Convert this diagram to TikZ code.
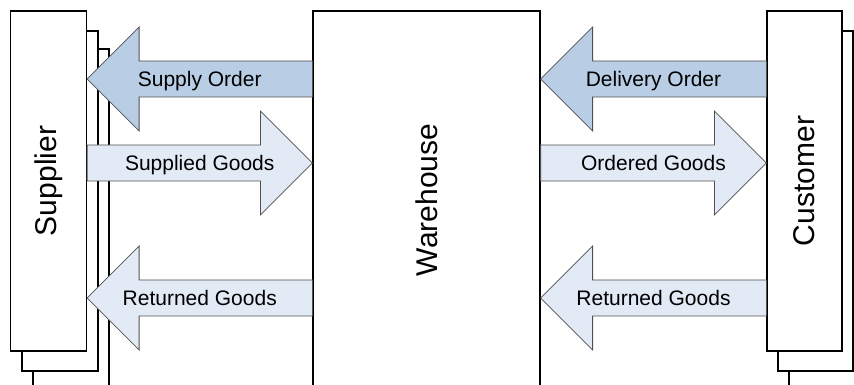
\documentclass[tikz,border=0pt]{standalone}
\usepackage{fontspec}
\setmainfont{Liberation Sans}
\usepackage{tikz}
\usetikzlibrary{calc}

\definecolor{orderblue}{HTML}{B9CDE5}
\definecolor{goodsblue}{HTML}{E2EAF5}
\definecolor{flowline}{HTML}{505050}

\begin{document}
\begin{tikzpicture}[x=1pt, y=1pt]
        \tikzstyle{party}=[draw, line width=1.2pt, fill=white, inner sep=0pt,
                           minimum width=76pt, minimum height=340pt]
        \tikzstyle{partyname}=[rotate=90, font=\fontsize{30}{36}\selectfont]
        % fat block arrow from tail to tip, label in the middle
        \tikzstyle{flow}=[draw=flowline, line width=0.8pt,
            to path={let \p1=(\tikztostart), \p2=(\tikztotarget),
                         \n1={sign(\x2-\x1)*52} in
                (\x1,\y2+18) -- (\x2-\n1,\y2+18) -- (\x2-\n1,\y2+52) -- (\x2,\y2)
                -- (\x2-\n1,\y2-52) -- (\x2-\n1,\y2-18) -- (\x1,\y2-18) -- cycle
                ({(\x1+\x2)/2},\y2) -- +(0,0) \tikztonodes}]
        \tikzstyle{orderflow}=[flow, fill=orderblue]
        \tikzstyle{goodsflow}=[flow, fill=goodsblue]
        \tikzstyle{flowtext}=[font=\fontsize{21}{25}\selectfont, text height=15pt,
                              text depth=0pt, inner sep=0pt, anchor=center]

        \useasboundingbox (0,0) rectangle (854,385);

        % supplier, two more sheets stacked behind
        \node (sup3) [party] at (71,166) {};
        \node (sup2) [party] at (60,184) {};
        \node (sup)  [party, label={[partyname]center:Supplier}] at (48.5,204) {};

        % customer, same stacking
        \node (cus3) [party, minimum width=75pt] at (826.5,166) {};
        \node (cus2) [party, minimum width=75pt] at (815.5,184) {};
        \node (cus)  [party, minimum width=75pt,
                      label={[partyname]center:Customer}] at (804.5,204) {};

        \node (wh) [party, minimum width=227pt, minimum height=378pt,
                    label={[partyname]center:Warehouse}] at (426.5,185) {};

        % levels of the three flows
        \coordinate (order)  at (0,306);
        \coordinate (goods)  at (0,222);
        \coordinate (return) at (0,87);

        \path (wh.west |- order)  edge[orderflow] node[flowtext] {Supply Order}   (sup.east |- order)
              (sup.east |- goods) edge[goodsflow] node[flowtext] {Supplied Goods} (wh.west |- goods)
              (wh.west |- return) edge[goodsflow] node[flowtext] {Returned Goods} (sup.east |- return);

        \path (cus.west |- order) edge[orderflow] node[flowtext] {Delivery Order} (wh.east |- order)
              (wh.east |- goods)  edge[goodsflow] node[flowtext] {Ordered Goods}  (cus.west |- goods)
              (cus.west |- return) edge[goodsflow] node[flowtext] {Returned Goods} (wh.east |- return);

    \end{tikzpicture}
\end{document}
